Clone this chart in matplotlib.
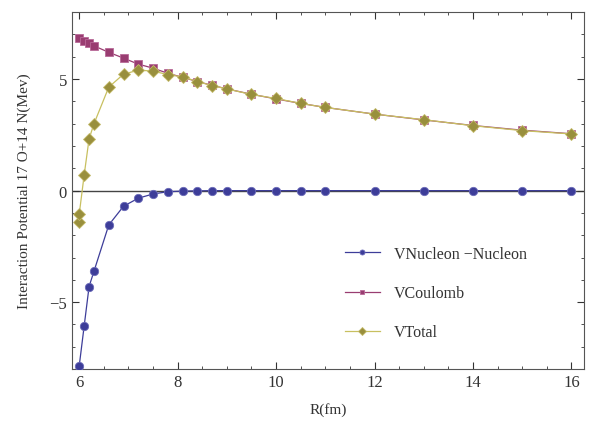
import matplotlib
matplotlib.use("Agg")
import matplotlib.pyplot as plt
from matplotlib.ticker import MultipleLocator

plt.rcParams["font.family"] = ["Liberation Serif", "DejaVu Serif"]

# separation R (fm)
r_values = [6.0, 6.1, 6.2, 6.3, 6.6, 6.9, 7.2, 7.5, 7.8, 8.1, 8.4, 8.7, 9.0,
            9.5, 10.0, 10.5, 11.0, 12.0, 13.0, 14.0, 15.0, 16.0]
v_nucleon = [-7.85, -6.07, -4.30, -3.61, -1.54, -0.70, -0.34, -0.15, -0.05, -0.02,
             -0.01, 0.0, 0.0, 0.0, 0.0, 0.0, 0.0, 0.0, 0.0, 0.0, 0.0, 0.0]
v_coulomb = [6.84, 6.69, 6.60, 6.49, 6.20, 5.94, 5.67, 5.49, 5.26, 5.08, 4.89,
             4.72, 4.56, 4.32, 4.11, 3.91, 3.73, 3.43, 3.17, 2.92, 2.71, 2.55]
r_total = [5.99] + r_values
v_total = [-1.40, -1.05, 0.70, 2.32, 3.00, 4.64, 5.22, 5.40, 5.36, 5.20, 5.10, 4.89,
           4.71, 4.56, 4.31, 4.13, 3.91, 3.73, 3.43, 3.18, 2.91, 2.69, 2.54]

blue = "#3d3d99"
red = "#993d71"
olive = "#998f3d"

fig = plt.figure(figsize=(5.89, 4.39), dpi=100)
ax = fig.add_axes([0.122, 0.157, 0.869, 0.813])

ax.axhline(0, color="#444444", linewidth=1.0, zorder=1)

ax.plot(r_values, v_nucleon, color=blue, linewidth=0.9, marker="o", markersize=6,
        markeredgecolor="#6a6ab8", markeredgewidth=0.6, label="VNucleon \u2212Nucleon", zorder=3)
ax.plot(r_values, v_coulomb, color=red, linewidth=0.9, marker="s", markersize=5.5,
        markeredgecolor="#b86a98", markeredgewidth=0.6, label="VCoulomb", zorder=3)
ax.plot(r_total, v_total, color="#c8c060", linewidth=0.9, marker="D", markersize=6.5,
        markerfacecolor=olive, markeredgecolor="#c4bb6a", markeredgewidth=0.6,
        label="VTotal", zorder=4)

ax.set_xlim(5.85, 16.25)
ax.set_ylim(-8, 8)
ax.xaxis.set_major_locator(MultipleLocator(2))
ax.xaxis.set_minor_locator(MultipleLocator(0.5))
ax.yaxis.set_major_locator(MultipleLocator(5))
ax.yaxis.set_minor_locator(MultipleLocator(1))
ax.tick_params(which="both", direction="in", top=True, right=True, colors="#333333",
               labelsize=12, labelcolor="#333333")
ax.tick_params(which="major", length=5)
ax.tick_params(which="minor", length=2.5)
for side in ax.spines.values():
    side.set_color("#555555")

ax.set_xlabel("R(fm)", fontsize=11, color="#333333", labelpad=9)
ax.set_ylabel("Interaction Potential 17 O+14 N(Mev)", fontsize=11, color="#333333", labelpad=13)

ax.legend(loc="upper left", bbox_to_anchor=(0.505, 0.385), frameon=False, fontsize=11.5,
          labelspacing=1.45, handlelength=2.2, handletextpad=0.9, markerscale=0.6,
          labelcolor="#333333")

fig.savefig("out.png", dpi=100)
